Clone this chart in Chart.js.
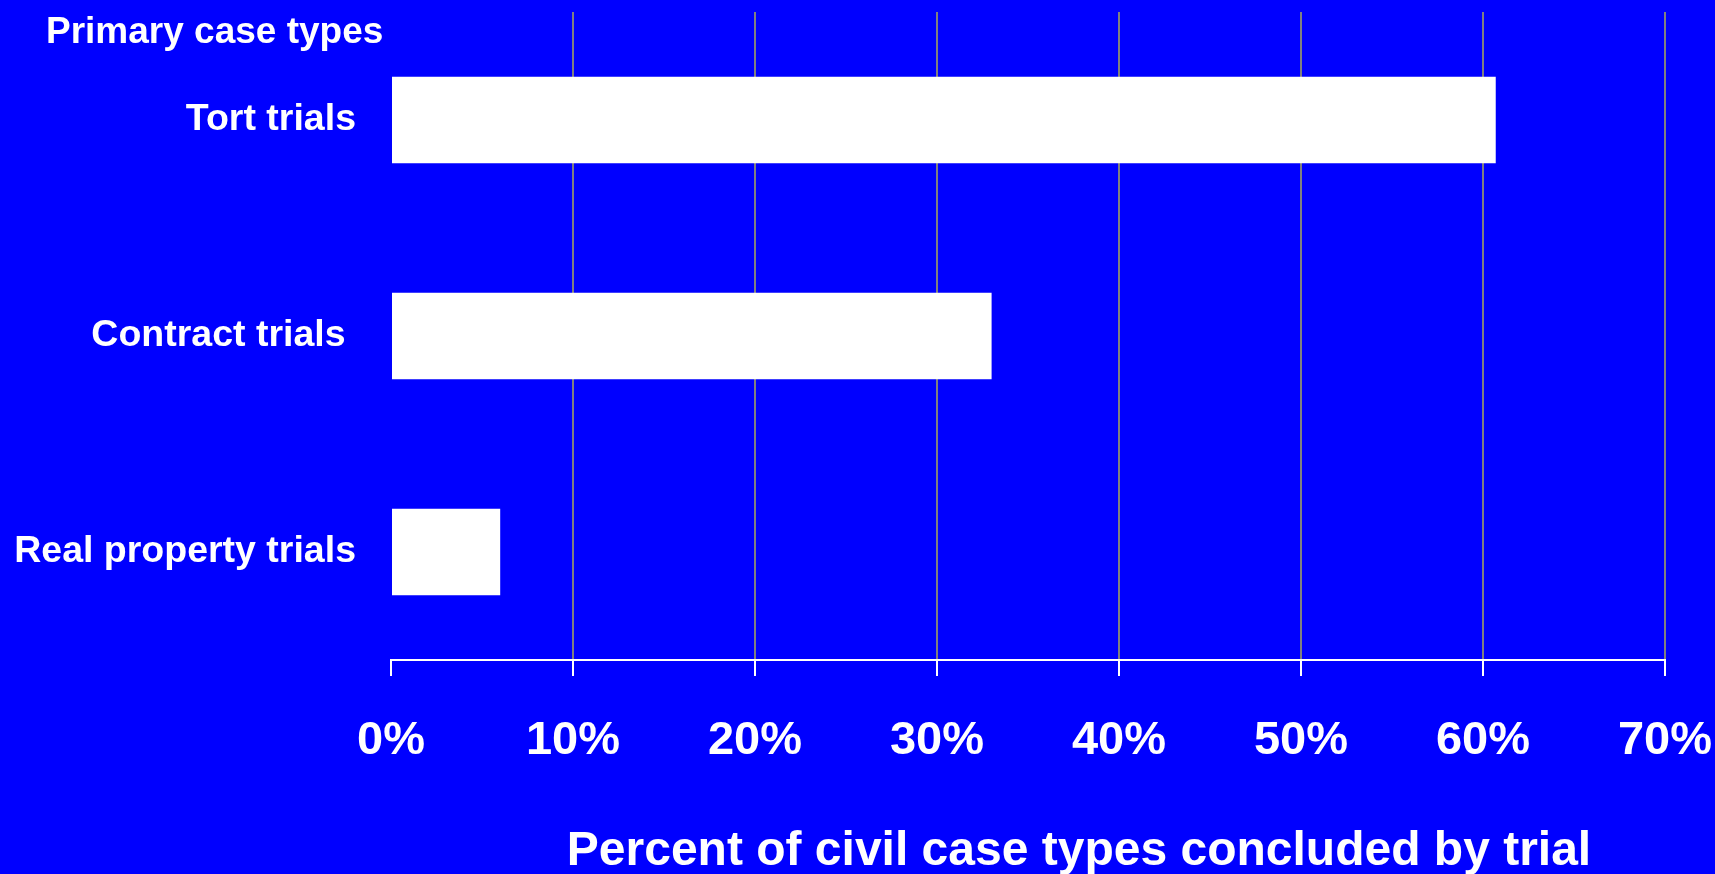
<!DOCTYPE html>
<html>
<head>
<meta charset="utf-8">
<script src="https://cdn.jsdelivr.net/npm/chart.js@4.4.0/dist/chart.umd.min.js"></script>
<style>
  html, body { margin: 0; padding: 0; background: #0000ff; }
  #wrap { width: 1715px; height: 874px; }
</style>
</head>
<body>
<div id="wrap"><canvas id="grafico"></canvas></div>
<script>
// datos del grafico
var categorias = ['Tort trials', 'Contract trials ', 'Real property trials'];
var porcentajes = [60.7, 33.0, 6.0];
var tituloY = 'Primary case types';
var tituloX = 'Percent of civil case types concluded by trial';

var fuente = "'Liberation Sans', Arial, sans-serif";

// dibuja los textos de los ejes
var textosPlugin = {
    id: 'textos',
    afterDraw: function (chart) {
        var ctx = chart.ctx;
        var area = chart.chartArea;
        ctx.save();
        ctx.fillStyle = '#ffffff';
        ctx.font = 'bold 37px ' + fuente;
        ctx.textAlign = 'left';
        ctx.textBaseline = 'alphabetic';
        ctx.fillText(tituloY, 46, 43);

        ctx.font = 'bold 48px ' + fuente;
        ctx.textAlign = 'center';
        ctx.fillText(tituloX, (area.left + area.right) / 2 + 51, 865);
        ctx.restore();
    }
};

// quita el relleno extra que Chart.js agrega por las etiquetas
function sinRelleno(scale) {
    scale.paddingTop = 0;
    scale.paddingBottom = 0;
    scale.paddingLeft = 0;
    scale.paddingRight = 0;
}

var ctx = document.getElementById('grafico').getContext('2d');
window.myBarChart = new Chart(ctx, {
    type: 'bar',
    data: {
        labels: categorias,
        datasets: [{
            label: 'Percent',
            data: porcentajes,
            backgroundColor: '#ffffff',
            borderWidth: 0,
            barPercentage: 0.4,
            categoryPercentage: 1.0
        }]
    },
    options: {
        indexAxis: 'y',
        responsive: true,
        maintainAspectRatio: false,
        animation: false,
        layout: {
            padding: { top: 12, right: 50, bottom: 0, left: 0 }
        },
        plugins: {
            legend: { display: false },
            tooltip: { enabled: false }
        },
        scales: {
            x: {
                min: 0,
                max: 70,
                ticks: {
                    stepSize: 10,
                    color: '#ffffff',
                    padding: 37,
                    font: { family: fuente, size: 47, weight: 'bold' },
                    callback: function (v) { return v + '%'; }
                },
                grid: {
                    color: function (c) { return c.index === 0 ? 'rgba(0,0,0,0)' : '#808080'; },
                    lineWidth: 2,
                    tickColor: '#ffffff',
                    tickLength: 16
                },
                border: { color: '#ffffff', width: 2 },
                afterFit: function (scale) { scale.height = 214; sinRelleno(scale); }
            },
            y: {
                ticks: {
                    color: '#ffffff',
                    padding: 35,
                    font: { family: fuente, size: 37.5, weight: 'bold' }
                },
                grid: { display: false, drawTicks: false },
                border: { display: false },
                afterFit: function (scale) { scale.width = 391; sinRelleno(scale); }
            }
        }
    },
    plugins: [textosPlugin]
});
</script>
</body>
</html>
